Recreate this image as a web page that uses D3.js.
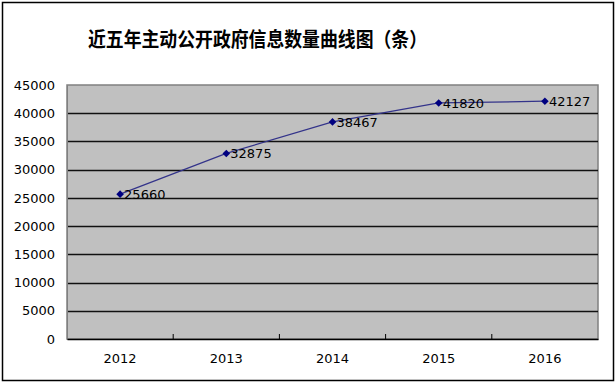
<!DOCTYPE html>
<html><head><meta charset="utf-8">
<script src="https://cdn.jsdelivr.net/npm/d3@7"></script>
<style>body{margin:0;background:#fff}svg{display:block}</style>
</head><body>
<script>
const title = "近五年主动公开政府信息数量曲线图（条）";
const years = ["2012","2013","2014","2015","2016"];
const values = [25660, 32875, 38467, 41820, 42127];
const yTicks = [0,5000,10000,15000,20000,25000,30000,35000,40000,45000];

const W=616,H=383;
const m={l:67,r:598,t:85,b:339};
const svg=d3.select("body").append("svg").attr("width",W).attr("height",H);
svg.append("rect").attr("x",2.5).attr("y",2.5).attr("width",611).attr("height",378)
  .attr("fill","#fff").attr("stroke","#000").attr("stroke-width",1.5);
svg.append("text").attr("x",257.5).attr("y",47).attr("text-anchor","middle")
  .attr("font-family","'Noto Sans CJK SC'").attr("font-weight","bold").attr("font-size",20)
  .attr("textLength",339).attr("lengthAdjust","spacingAndGlyphs")
  .attr("fill","#000").text(title);

const x=d3.scaleBand().domain(years).range([m.l,m.r]).padding(0);
const y=d3.scaleLinear().domain([0,45000]).range([m.b,m.t]);

svg.append("rect").attr("x",m.l).attr("y",m.t).attr("width",m.r-m.l).attr("height",m.b-m.t)
  .attr("fill","#c0c0c0").attr("stroke","#808080").attr("stroke-width",1.5);

svg.append("g").selectAll("line").data(yTicks.filter(d=>d>0&&d<45000)).join("line")
  .attr("x1",m.l).attr("x2",m.r).attr("y1",d=>Math.round(y(d))+0.5).attr("y2",d=>Math.round(y(d))+0.5)
  .attr("stroke","#111").attr("stroke-width",1.3);

const yAxis=svg.append("g").attr("transform",`translate(${m.l},0)`)
  .call(d3.axisLeft(y).tickValues(yTicks).tickSize(0).tickPadding(12).tickFormat(d3.format("d")));
yAxis.select(".domain").attr("stroke","#808080");
yAxis.selectAll("text").attr("font-family","'DejaVu Sans'").attr("font-size",13).attr("fill","#000");

const xAxis=svg.append("g").attr("transform",`translate(0,${m.b})`)
  .call(d3.axisBottom(x).tickSize(0).tickPadding(15));
xAxis.select(".domain").attr("stroke","#000").attr("stroke-width",1.3);
xAxis.selectAll("text").attr("font-family","'DejaVu Sans'").attr("font-size",13).attr("fill","#000");
svg.append("g").selectAll("line").data(years.slice(1)).join("line")
  .attr("x1",d=>x(d)).attr("x2",d=>x(d)).attr("y1",m.b).attr("y2",m.b-5)
  .attr("stroke","#000").attr("stroke-width",1);

const cx=d=>x(d)+x.bandwidth()/2;
const line=d3.line().x((d,i)=>cx(years[i])).y(d=>y(d));
svg.append("path").datum(values).attr("d",line).attr("fill","none")
  .attr("stroke","#33338a").attr("stroke-width",1.2);
svg.append("g").selectAll("path").data(values).join("path")
  .attr("transform",(d,i)=>`translate(${cx(years[i])},${y(d)})`)
  .attr("d","M0,-3.8L3.8,0L0,3.8L-3.8,0Z").attr("fill","#000080");
svg.append("g").selectAll("text").data(values).join("text")
  .attr("x",(d,i)=>cx(years[i])+4).attr("y",d=>y(d)+5)
  .attr("font-family","'DejaVu Sans'").attr("font-size",13).attr("fill","#000")
  .text(d=>d);
</script>
</body></html>
